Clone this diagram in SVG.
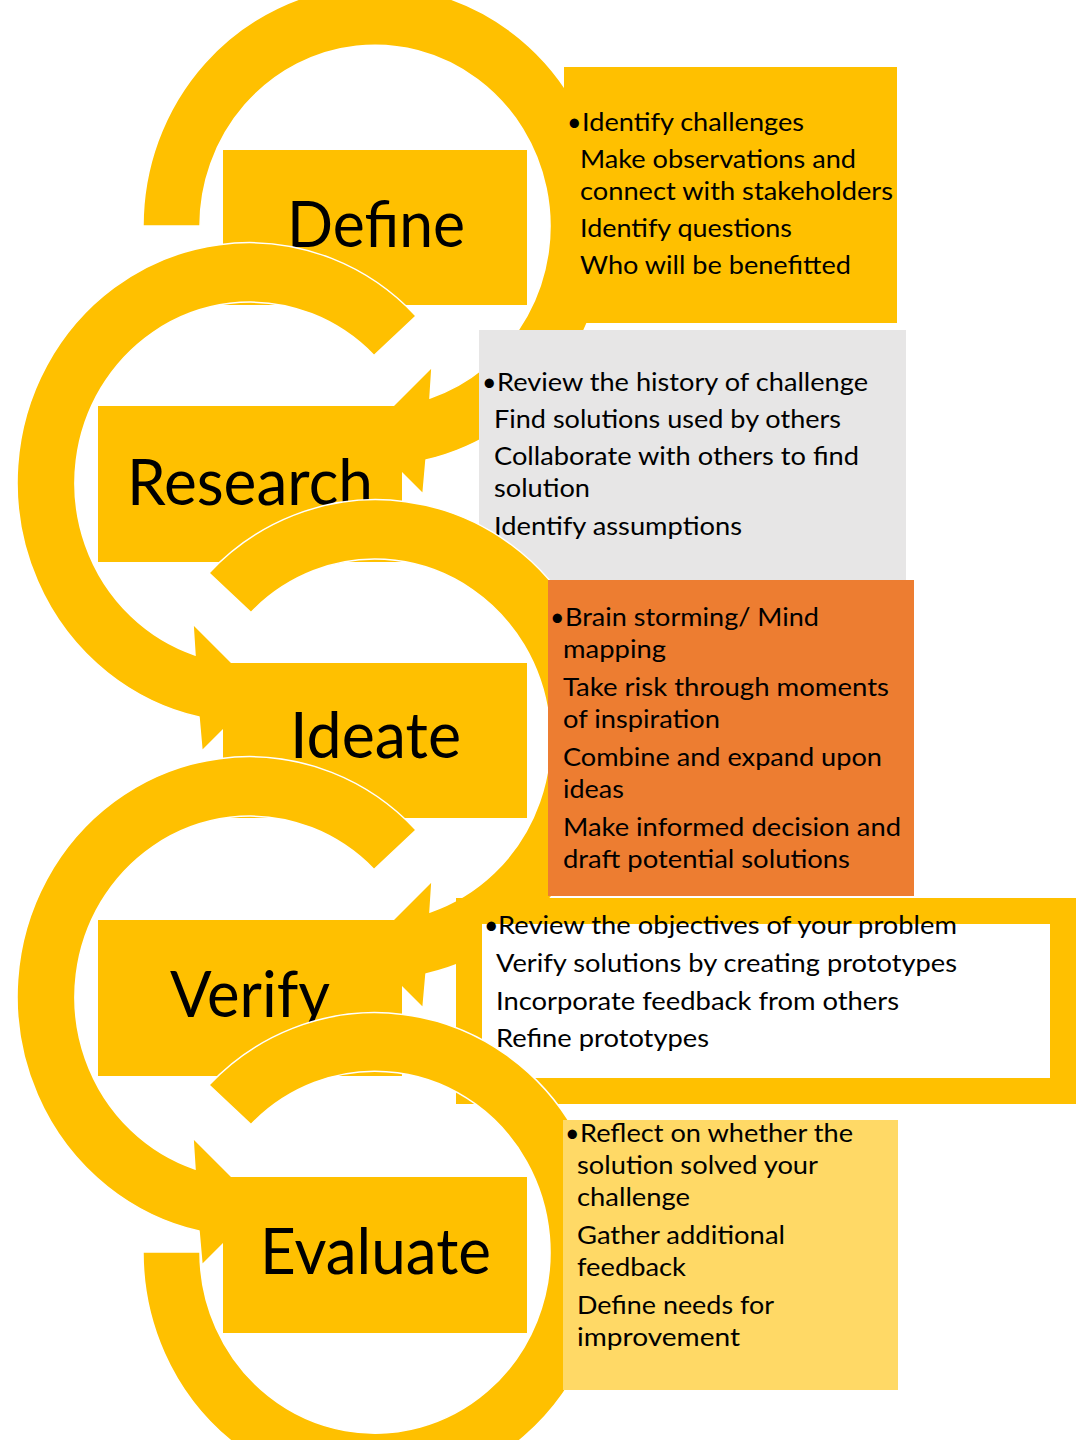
<svg xmlns="http://www.w3.org/2000/svg" width="1076" height="1440" viewBox="0 0 1076 1440">
<style>
.ring{fill:#FFC000;stroke:#FFFFFF;stroke-width:1.5}
.box{fill:#FFC000}
.lbl{font-family:Lato,"Liberation Sans",sans-serif;font-size:64px;fill:#000}
.t{font-family:Lato,"Liberation Sans",sans-serif;font-size:25px;fill:#000}
</style>
<rect width="1076" height="1440" fill="#FFFFFF"/>

<!-- Step 1: Define -->
<g id="connectors-define">
<path class="ring" d="M143,226 A232,240 0 1 1 426,460 L423,494 L364,435 L432,367 L430,398 A175,181 0 1 0 200,226 Z"/>
</g>
<g id="node-define">
<rect class="box" x="223" y="150" width="304" height="155"/>
<text class="lbl" x="287" y="247" textLength="178" lengthAdjust="spacingAndGlyphs">Define</text>
</g>
<g id="text-define">
<rect x="564" y="67" width="333" height="256" fill="#FFC000"/>
<text class="t" x="567" y="131">•</text>
<text class="t" x="582" y="131" textLength="222" lengthAdjust="spacingAndGlyphs">Identify challenges</text>
<text class="t" x="580" y="168" textLength="276" lengthAdjust="spacingAndGlyphs">Make observations and</text>
<text class="t" x="580" y="200" textLength="313" lengthAdjust="spacingAndGlyphs">connect with stakeholders</text>
<text class="t" x="580" y="237" textLength="212" lengthAdjust="spacingAndGlyphs">Identify questions</text>
<text class="t" x="580" y="274" textLength="271" lengthAdjust="spacingAndGlyphs">Who will be benefitted</text>
</g>

<!-- Step 2: Research -->
<g id="connectors-research">
<path class="ring" d="M416,316 A232,240 0 1 0 199,717 L202,751 L261,692 L193,624 L195,655 A175,181 0 1 1 374,355.5 Z"/>
</g>
<g id="node-research">
<rect class="box" x="98" y="406" width="304" height="156"/>
<text class="lbl" x="127" y="505" textLength="246" lengthAdjust="spacingAndGlyphs">Research</text>
</g>
<g id="text-research">
<rect x="479" y="330" width="427" height="250" fill="#E7E6E6"/>
<text class="t" x="482" y="391">•</text>
<text class="t" x="497" y="391" textLength="371" lengthAdjust="spacingAndGlyphs">Review the history of challenge</text>
<text class="t" x="494" y="428" textLength="347" lengthAdjust="spacingAndGlyphs">Find solutions used by others</text>
<text class="t" x="494" y="465" textLength="365" lengthAdjust="spacingAndGlyphs">Collaborate with others to find</text>
<text class="t" x="494" y="497" textLength="96" lengthAdjust="spacingAndGlyphs">solution</text>
<text class="t" x="494" y="535" textLength="248" lengthAdjust="spacingAndGlyphs">Identify assumptions</text>
</g>

<!-- Step 3: Ideate -->
<g id="connectors-ideate">
<path class="ring" d="M209,573 A232,240 0 1 1 426,974 L423,1008 L364,949 L432,881 L430,912 A175,181 0 1 0 251,612.5 Z"/>
</g>
<g id="node-ideate">
<rect class="box" x="223" y="663" width="304" height="155"/>
<text class="lbl" x="290" y="758" textLength="171" lengthAdjust="spacingAndGlyphs">Ideate</text>
</g>
<g id="text-ideate">
<rect x="548" y="580" width="366" height="316" fill="#ED7D31"/>
<text class="t" x="550" y="626">•</text>
<text class="t" x="565" y="626" textLength="254" lengthAdjust="spacingAndGlyphs">Brain storming/ Mind</text>
<text class="t" x="563" y="658" textLength="103" lengthAdjust="spacingAndGlyphs">mapping</text>
<text class="t" x="563" y="696" textLength="326" lengthAdjust="spacingAndGlyphs">Take risk through moments</text>
<text class="t" x="563" y="728" textLength="157" lengthAdjust="spacingAndGlyphs">of inspiration</text>
<text class="t" x="563" y="766" textLength="319" lengthAdjust="spacingAndGlyphs">Combine and expand upon</text>
<text class="t" x="563" y="798" textLength="61" lengthAdjust="spacingAndGlyphs">ideas</text>
<text class="t" x="563" y="836" textLength="338" lengthAdjust="spacingAndGlyphs">Make informed decision and</text>
<text class="t" x="563" y="868" textLength="287" lengthAdjust="spacingAndGlyphs">draft potential solutions</text>
</g>

<!-- Step 4: Verify -->
<g id="connectors-verify">
<path class="ring" d="M416,830 A232,240 0 1 0 199,1231 L202,1265 L261,1206 L193,1138 L195,1169 A175,181 0 1 1 374,869.5 Z"/>
</g>
<g id="node-verify">
<rect class="box" x="98" y="920" width="304" height="156"/>
<text class="lbl" x="170" y="1017" textLength="160" lengthAdjust="spacingAndGlyphs">Verify</text>
</g>
<g id="text-verify">
<rect x="469" y="911" width="594" height="180" fill="#FFFFFF" stroke="#FFC000" stroke-width="26"/>
<text class="t" x="484" y="934">•</text>
<text class="t" x="498" y="934" textLength="459" lengthAdjust="spacingAndGlyphs">Review the objectives of your problem</text>
<text class="t" x="496" y="972" textLength="461" lengthAdjust="spacingAndGlyphs">Verify solutions by creating prototypes</text>
<text class="t" x="496" y="1010" textLength="403" lengthAdjust="spacingAndGlyphs">Incorporate feedback from others</text>
<text class="t" x="496" y="1047" textLength="213" lengthAdjust="spacingAndGlyphs">Refine prototypes</text>
</g>

<!-- Step 5: Evaluate -->
<g id="connectors-evaluate">
<path class="ring" d="M209,1085 A232,240 0 1 1 143,1252 L200,1252 A175,181 0 1 0 251,1124.5 Z"/>
</g>
<g id="node-evaluate">
<rect class="box" x="223" y="1177" width="304" height="156"/>
<text class="lbl" x="260" y="1274" textLength="231" lengthAdjust="spacingAndGlyphs">Evaluate</text>
</g>
<g id="text-evaluate">
<rect x="563" y="1120" width="335" height="270" fill="#FFD966"/>
<text class="t" x="565" y="1142">•</text>
<text class="t" x="580" y="1142" textLength="273" lengthAdjust="spacingAndGlyphs">Reflect on whether the</text>
<text class="t" x="577" y="1174" textLength="241" lengthAdjust="spacingAndGlyphs">solution solved your</text>
<text class="t" x="577" y="1206" textLength="113" lengthAdjust="spacingAndGlyphs">challenge</text>
<text class="t" x="577" y="1244" textLength="208" lengthAdjust="spacingAndGlyphs">Gather additional</text>
<text class="t" x="577" y="1276" textLength="109" lengthAdjust="spacingAndGlyphs">feedback</text>
<text class="t" x="577" y="1314" textLength="197" lengthAdjust="spacingAndGlyphs">Define needs for</text>
<text class="t" x="577" y="1346" textLength="163" lengthAdjust="spacingAndGlyphs">improvement</text>
</g>
</svg>
